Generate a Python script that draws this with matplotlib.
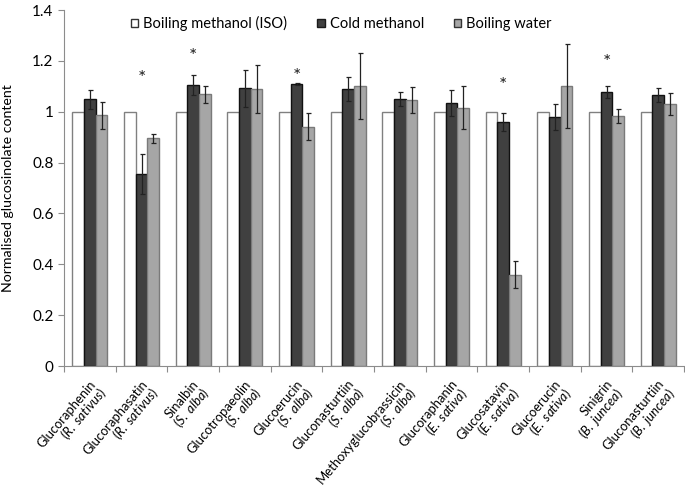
import numpy as np
import matplotlib
matplotlib.use("Agg")
import matplotlib.pyplot as plt
from matplotlib.patches import Patch
from matplotlib.transforms import ScaledTranslation

plt.rcParams['font.family'] = ['Lato', 'DejaVu Sans']
plt.rcParams['mathtext.fontset'] = 'custom'
plt.rcParams['mathtext.rm'] = 'Lato'
plt.rcParams['mathtext.it'] = 'Lato:italic'

# --- data ---
compounds = ['Glucoraphenin', 'Glucoraphasatin', 'Sinalbin', 'Glucotropaeolin',
             'Glucoerucin', 'Gluconasturtiin', 'Methoxyglucobrassicin', 'Glucoraphanin',
             'Glucosatavin', 'Glucoerucin', 'Sinigrin', 'Gluconasturtiin']
species = ['R.\\ sativus', 'R.\\ sativus', 'S.\\ alba', 'S.\\ alba', 'S.\\ alba', 'S.\\ alba',
           'S.\\ alba', 'E.\\ sativa', 'E.\\ sativa', 'E.\\ sativa', 'B.\\ juncea', 'B.\\ juncea']

boiling_methanol = [1, 1, 1, 1, 1, 1, 1, 1, 1, 1, 1, 1]
cold_methanol = [1.049, 0.755, 1.105, 1.092, 1.109, 1.088, 1.051, 1.033, 0.959, 0.979, 1.077, 1.066]
cold_methanol_err = [0.037, 0.08, 0.04, 0.074, 0.003, 0.047, 0.027, 0.051, 0.034, 0.05, 0.025, 0.029]
boiling_water = [0.986, 0.895, 1.068, 1.088, 0.941, 1.101, 1.046, 1.016, 0.358, 1.101, 0.983, 1.029]
boiling_water_err = [0.053, 0.017, 0.033, 0.095, 0.052, 0.13, 0.052, 0.085, 0.053, 0.166, 0.026, 0.043]

# significance stars (group index, height)
star_groups = [1, 2, 4, 8, 10]
star_heights = [1.148, 1.232, 1.153, 1.121, 1.208]

fig = plt.figure(figsize=(6.85, 4.95), dpi=100)
ax = fig.add_axes([64/685, 1 - 366/495, 620/685, 356/495])

# size the category labels so the longest name is ~132 px wide
r = fig.canvas.get_renderer()
probe = fig.text(0, 0, 'Methoxyglucobrassicin', fontsize=10)
label_size = 10 * 132 / probe.get_window_extent(r).width
probe.remove()

x = np.arange(len(compounds))
w = 0.227

ax.bar(x - w, boiling_methanol, w, color='white', edgecolor='#808080', linewidth=1)
ax.bar(x, cold_methanol, w, color='#404040', edgecolor='#111111', linewidth=1)
ax.bar(x + w, boiling_water, w, color='#a6a6a6', edgecolor='#7a7a7a', linewidth=1)

ekw = dict(fmt='none', ecolor='#222222', elinewidth=0.9, capsize=1.8, capthick=0.9)
ax.errorbar(x, cold_methanol, yerr=cold_methanol_err, **ekw)
ax.errorbar(x + w, boiling_water, yerr=boiling_water_err, **ekw)

for g, h in zip(star_groups, star_heights):
    ax.annotate('*', (g, h), xytext=(0, -3), textcoords='offset points',
                ha='center', va='center', fontsize=14, color='#222222')

ax.set_xlim(-0.5, len(compounds) - 0.5)
ax.set_ylim(0, 1.4)
ax.set_yticks(np.arange(0, 1.41, 0.2))
ax.set_yticklabels(['0', '0.2', '0.4', '0.6', '0.8', '1', '1.2', '1.4'], fontsize=11)
ax.set_ylabel('Normalised glucosinolate content', fontsize=10.2)
ax.yaxis.set_label_coords(-50/620, 0.5)

# group boundary ticks, labels at centres
ax.set_xticks(np.arange(-0.5, len(compounds), 1.0))
ax.set_xticklabels([])
ax.set_xticks(x, minor=True)
labels = [c + '\n($\\mathit{' + s + '}$)' for c, s in zip(compounds, species)]
# anchor = end of the last line's baseline (right-aligned lines)
ax.set_xticklabels(labels, minor=True, rotation=50, ha='right', va='baseline',
                   rotation_mode='anchor', multialignment='right', fontsize=label_size,
                   linespacing=0.9)
ax.tick_params(axis='x', which='minor', length=0, pad=28 * 72 / 100)
shift = ScaledTranslation(18/100, 0, fig.dpi_scale_trans)
for lbl in ax.get_xticklabels(minor=True):
    lbl.set_transform(lbl.get_transform() + shift)
ax.tick_params(axis='x', which='major', length=4, color='#8c8c8c', direction='out')
ax.tick_params(axis='y', length=4, color='#8c8c8c', direction='out')

for s in ['top', 'right']:
    ax.spines[s].set_visible(False)
for s in ['left', 'bottom']:
    ax.spines[s].set_color('#8c8c8c')

handles = [Patch(facecolor='white', edgecolor='#333333', label='Boiling methanol (ISO)'),
           Patch(facecolor='#404040', edgecolor='#1a1a1a', label='Cold methanol'),
           Patch(facecolor='#a6a6a6', edgecolor='#333333', label='Boiling water')]
ax.legend(handles=handles, loc='center left', bbox_to_anchor=(67/620, 0.961), ncol=3,
          frameon=False, fontsize=10.5, handlelength=0.5, handleheight=0.5,
          handletextpad=0.35, columnspacing=2.05, borderpad=0, borderaxespad=0)

fig.savefig('out.png', dpi=100)
